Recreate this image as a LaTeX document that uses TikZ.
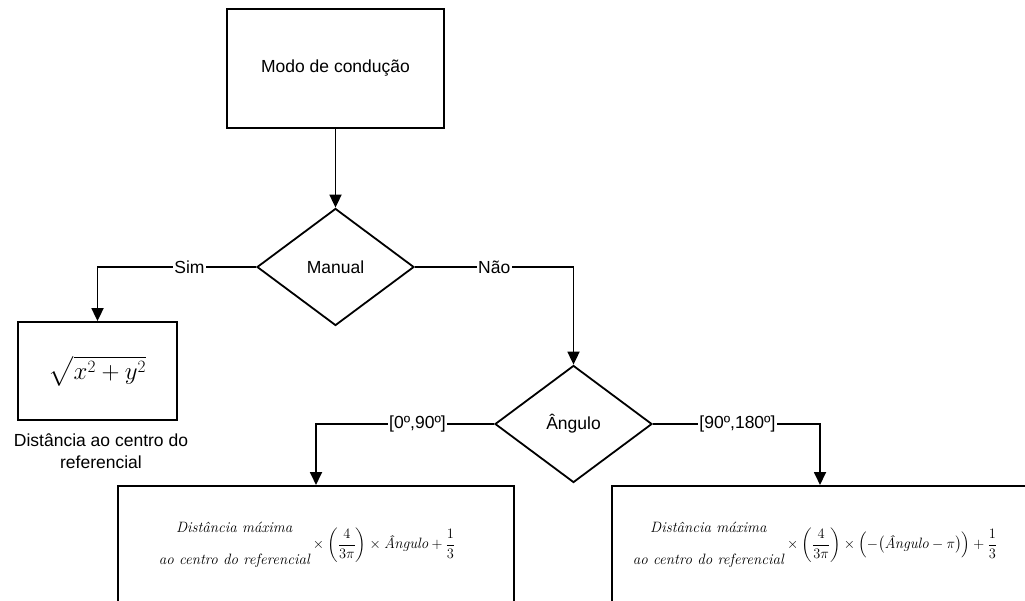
\documentclass[tikz,border=0pt]{standalone}
\usepackage{amsmath}
\usepackage{fontspec}
\setsansfont{Liberation Sans}
\usetikzlibrary{shapes.geometric,arrows.meta}

\begin{document}
\begin{tikzpicture}[x=1pt,y=-1pt,
  every node/.style={font=\sffamily\fontsize{17.5}{22}\selectfont, text=black},
  flowbox/.style={draw, rectangle, line width=1.8pt, inner sep=0pt},
  decision/.style={draw, diamond, line width=1.8pt, inner sep=0pt,
                   minimum width=157pt, minimum height=117pt},
  link/.style={line width=1.8pt, -{Triangle[length=13pt,width=12pt]}},
  tag/.style={fill=white, inner sep=1.5pt},
  formula/.style={font=\rmfamily\fontsize{15}{18}\selectfont, inner sep=0pt},
]
\clip (0,0) rectangle (1025,601);

% start
\node[flowbox, minimum width=217pt, minimum height=119pt] (mode) at (335.5,68.5) {Modo de condução};

% first decision
\node[decision] (manual) at (335.5,267) {Manual};
\draw[link] (mode) -- (manual);

% manual driving: distance to origin
\node[flowbox, minimum width=159pt, minimum height=98pt] (simbox) at (97.5,371)
  {\fontsize{25}{30}\selectfont\raisebox{6pt}{$\sqrt{x^2+y^2}$}};
\node[align=center] (caption) at (101,451) {Distância ao centro do\\referencial};
\draw[link] (manual.west) -| (simbox.north) node[tag,pos=0.21] {Sim};

% second decision
\node[decision] (angle) at (573.5,424) {Ângulo};
\draw[link] (manual.east) -| (angle.north) node[tag,pos=0.25] {Não};

% lower boxes (run past the bottom edge)
\node[flowbox, minimum width=396pt, minimum height=240pt, anchor=north] (leftbox) at (316,485) {};
\node[flowbox, minimum width=416pt, minimum height=240pt, anchor=north] (rightbox) at (820,485) {};

\draw[link] (angle.west) -| (leftbox.north) node[tag,pos=0.215] {[0º,90º]};
\draw[link] (angle.east) -| (rightbox.north) node[tag,pos=0.253] {[90º,180º]};

\node[formula] (leftexpr) at (307,545)
  {$\begin{array}{@{}c@{}}\textit{Distância máxima}\\[14pt]\textit{ao centro do referencial}\end{array}
    \times\left(\dfrac{4}{3\pi}\right)\times\textit{Ângulo}+\dfrac{1}{3}$};
\node[formula] (rightexpr) at (815,545)
  {$\begin{array}{@{}c@{}}\textit{Distância máxima}\\[14pt]\textit{ao centro do referencial}\end{array}
    \times\left(\dfrac{4}{3\pi}\right)\times\Bigl(-\bigl(\textit{Ângulo}-\pi\bigr)\Bigr)+\dfrac{1}{3}$};
\end{tikzpicture}
\end{document}
